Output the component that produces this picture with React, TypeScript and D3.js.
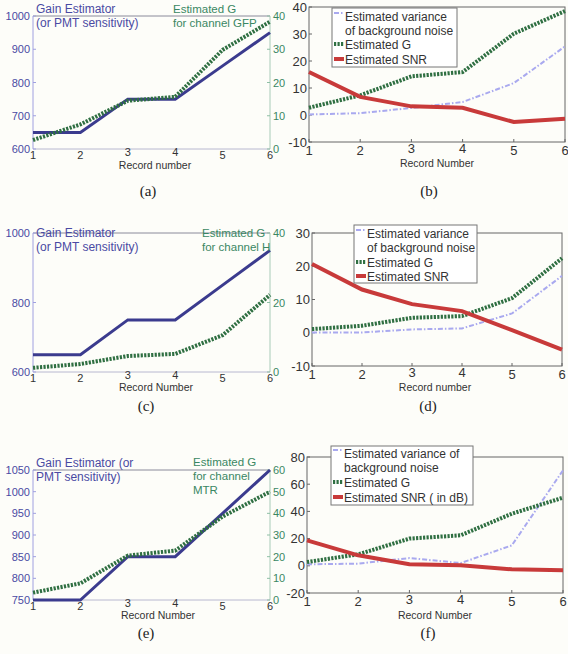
import React from "react";
import * as d3 from "d3";

// record numbers on every x axis
const records = [1, 2, 3, 4, 5, 6];

// (a) channel GFP
const gainA = [650, 650, 750, 750, 850, 950];
const estGA = [2.7, 7.4, 14.5, 15.7, 29.8, 38.3];
// (b)
const varB = [0.2, 0.7, 2.6, 4.8, 11.8, 25.4];
const estGB = [2.7, 7.3, 14.3, 15.9, 30.1, 38.5];
const snrB = [15.9, 6.7, 3.2, 2.7, -2.6, -1.4];
// (c) channel H
const gainC = [650, 650, 750, 750, 850, 950];
const estGC = [1.2, 2.3, 4.6, 5.2, 10.6, 22.2];
// (d)
const varD = [0.1, 0.1, 1, 1.3, 5.8, 17.1];
const estGD = [1.1, 2.1, 4.5, 5, 10.4, 22.4];
const snrD = [20.7, 13, 8.6, 6.5, 0.8, -5.1];
// (e) channel MTR
const gainE = [750, 750, 850, 850, 950, 1050];
const estGE = [3.4, 7.7, 20.5, 22.8, 38.5, 50];
// (f)
const varF = [1.1, 1.6, 5.7, 2, 15, 70.2];
const estGF = [2.8, 8.4, 20, 22.4, 38.3, 50.1];
const snrF = [18.7, 7.7, 1.1, 0.4, -2.6, -3.3];

// tick labels
const gainTicksA = [600, 700, 800, 900, 1000];
const gTicksA = [0, 10, 20, 30, 40];
const gainTicksC = [600, 800, 1000];
const gTicksC = [0, 20, 40];
const gainTicksE = [750, 800, 850, 900, 950, 1000, 1050];
const gTicksE = [0, 10, 20, 30, 40, 50, 60];
const ticksB = [-10, 0, 10, 20, 30, 40];
const ticksD = [-10, 0, 10, 20, 30];
const ticksF = [-20, 0, 20, 40, 60, 80];

const FONT = "'Liberation Sans', Arial, sans-serif";
const SERIF = "'Liberation Serif', 'Times New Roman', serif";
const GAIN_C = "#3b3b8e";
const GREEN = "#2f6f42";
const GREEN_TXT = "#3a8763";
const BLUE_TXT = "#4a4aa3";
const VAR_C = "#a9a9ef";
const RED = "#c83a3a";

const gStyle = { stroke: GREEN, strokeWidth: 4, strokeDasharray: "2.2 1.3", fill: "none" };
const gainStyle = { stroke: GAIN_C, strokeWidth: 3, fill: "none" };
const varStyle = { stroke: VAR_C, strokeWidth: 2, strokeDasharray: "5 2 1.5 2", fill: "none" };
const snrStyle = { stroke: RED, strokeWidth: 4, fill: "none" };

type LeftProps = {
  box: number[]; // x0, x1, yTop, yBot
  gain: number[];
  g: number[];
  gainDomain: number[];
  gainTicks: number[];
  gDomain: number[];
  gTicks: number[];
  leftText: string[];
  leftTextY: number;
  rightText: string[];
  rightTextX: number;
  rightTextY: number;
  xlabel: string;
  xlabelPos: number[];
  caption: string;
  captionPos: number[];
};

function LeftPanel(p: LeftProps) {
  const [x0, x1, yT, yB] = p.box;
  const x = d3.scaleLinear().domain([1, 6]).range([x0, x1]);
  const yL = d3.scaleLinear().domain(p.gainDomain).range([yB, yT]);
  const yR = d3.scaleLinear().domain(p.gDomain).range([yB, yT]);
  const lineL = d3.line<number>().x((d, i) => x(records[i])).y((d) => yL(d));
  const lineR = d3.line<number>().x((d, i) => x(records[i])).y((d) => yR(d));
  return (
    <g fontFamily={FONT}>
      <line x1={x0} x2={x1} y1={yT} y2={yT} stroke="#8a8a9a" strokeWidth={1} />
      <line x1={x0} x2={x1} y1={yB} y2={yB} stroke="#b8b8d0" strokeWidth={1} />
      <line x1={x0} x2={x0} y1={yT} y2={yB} stroke="#a0a0e0" strokeWidth={1} />
      <line x1={x1} x2={x1} y1={yT} y2={yB} stroke="#a8cbb8" strokeWidth={1} />
      {p.gainTicks.map((t) => (
        <g key={"l" + t}>
          <line x1={x0} x2={x0 + 3} y1={yL(t)} y2={yL(t)} stroke="#a0a0e0" />
          <text x={x0 - 3} y={yL(t) + 4} fontSize={11} textAnchor="end" fill={BLUE_TXT}>
            {t}
          </text>
        </g>
      ))}
      {p.gTicks.map((t) => (
        <g key={"r" + t}>
          <line x1={x1 - 3} x2={x1} y1={yR(t)} y2={yR(t)} stroke="#8fbfa5" />
          <text x={x1 + 3} y={yR(t) + 4} fontSize={11} fill={GREEN_TXT}>
            {t}
          </text>
        </g>
      ))}
      {records.map((r) => (
        <text
          key={"x" + r}
          x={x(r)}
          y={r === 3 || r === 4 ? yB + 7 : yB + 10}
          fontSize={11}
          textAnchor="middle"
          fill="#333"
        >
          {r}
        </text>
      ))}
      <path d={lineL(p.gain) || ""} style={gainStyle} />
      <path d={lineR(p.g) || ""} style={gStyle} />
      {p.leftText.map((s, i) => (
        <text key={"lt" + i} x={x0 + 3} y={p.leftTextY + i * 14} fontSize={12} fill={BLUE_TXT}>
          {s}
        </text>
      ))}
      {p.rightText.map((s, i) => (
        <text key={"rt" + i} x={p.rightTextX} y={p.rightTextY + i * 14} fontSize={11.5} fill={GREEN_TXT}>
          {s}
        </text>
      ))}
      <text x={p.xlabelPos[0]} y={p.xlabelPos[1]} fontSize={10.5} textAnchor="middle" fill="#333">
        {p.xlabel}
      </text>
      <text x={p.captionPos[0]} y={p.captionPos[1]} fontSize={15} textAnchor="middle" fontFamily={SERIF} fill="#222">
        {p.caption}
      </text>
    </g>
  );
}

type RightProps = {
  box: number[];
  v: number[];
  g: number[];
  snr: number[];
  domain: number[];
  ticks: number[];
  legendBox: number[]; // x0, x1, y0, y1
  legendText: string[];
  legendRows: number[];
  snrLabel: string;
  xlabel: string;
  xlabelPos: number[];
  caption: string;
  captionPos: number[];
};

function RightPanel(p: RightProps) {
  const [x0, x1, yT, yB] = p.box;
  const x = d3.scaleLinear().domain([1, 6]).range([x0, x1]);
  const y = d3.scaleLinear().domain(p.domain).range([yB, yT]);
  const line = d3.line<number>().x((d, i) => x(records[i])).y((d) => y(d));
  const [lx0, lx1, ly0, ly1] = p.legendBox;
  const sx0 = lx0 + 2;
  const sx1 = lx0 + 12;
  const tx = lx0 + 13;
  const rows = p.legendRows;
  return (
    <g fontFamily={FONT}>
      <rect x={x0} y={yT} width={x1 - x0} height={yB - yT} fill="none" stroke="#666" strokeWidth={1} />
      {p.ticks.map((t) => (
        <g key={"t" + t}>
          <line x1={x0} x2={x0 + 3} y1={y(t)} y2={y(t)} stroke="#666" />
          <text x={x0 - 2} y={y(t) + 4.5} fontSize={13} textAnchor="end" fill="#333">
            {t}
          </text>
        </g>
      ))}
      {records.map((r) => (
        <g key={"x" + r}>
          <line x1={x(r)} x2={x(r)} y1={yB} y2={yB - 3} stroke="#666" />
          <text x={x(r)} y={r === 3 || r === 4 ? yB + 11 : yB + 13} fontSize={13} textAnchor="middle" fill="#333">
            {r}
          </text>
        </g>
      ))}
      <path d={line(p.v) || ""} style={varStyle} />
      <path d={line(p.g) || ""} style={gStyle} />
      <path d={line(p.snr) || ""} style={snrStyle} />
      <rect x={lx0} y={ly0} width={lx1 - lx0} height={ly1 - ly0} fill="#fff" stroke="#777" strokeWidth={1} />
      <line x1={sx0} x2={sx1} y1={rows[0] - 3} y2={rows[0] - 3} style={varStyle} />
      <line x1={sx0} x2={sx1} y1={rows[2]} y2={rows[2]} style={gStyle} />
      <line x1={sx0} x2={sx1} y1={rows[3]} y2={rows[3]} style={snrStyle} />
      {p.legendText.map((s, i) => (
        <text key={"lg" + i} x={tx} y={rows[i] + 4.5} fontSize={12} fill="#333">
          {s}
        </text>
      ))}
      <text x={tx} y={rows[3] + 4.5} fontSize={12} fill="#333">
        {p.snrLabel}
      </text>
      <text x={p.xlabelPos[0]} y={p.xlabelPos[1]} fontSize={10.5} textAnchor="middle" fill="#333">
        {p.xlabel}
      </text>
      <text x={p.captionPos[0]} y={p.captionPos[1]} fontSize={15} textAnchor="middle" fontFamily={SERIF} fill="#222">
        {p.caption}
      </text>
    </g>
  );
}

export default function App() {
  return (
    <svg width={568} height={654} style={{ position: "absolute", left: 0, top: 0, background: "#fdfdf9" }}>
      <LeftPanel
        box={[33, 270, 16, 149]}
        gain={gainA}
        g={estGA}
        gainDomain={[600, 1000]}
        gainTicks={gainTicksA}
        gDomain={[0, 40]}
        gTicks={gTicksA}
        leftText={["Gain Estimator", "(or PMT sensitivity)"]}
        leftTextY={13}
        rightText={["Estimated G", "for channel GFP"]}
        rightTextX={173}
        rightTextY={13}
        xlabel="Record number"
        xlabelPos={[155, 169]}
        caption="(a)"
        captionPos={[148, 196]}
      />
      <RightPanel
        box={[309, 565, 7, 142]}
        v={varB}
        g={estGB}
        snr={snrB}
        domain={[-10, 40]}
        ticks={ticksB}
        legendBox={[332, 457, 8, 67]}
        legendText={["Estimated variance", "of background noise", "Estimated G"]}
        legendRows={[16, 30, 44, 59]}
        snrLabel="Estimated SNR"
        xlabel="Record Number"
        xlabelPos={[437, 167]}
        caption="(b)"
        captionPos={[429, 196]}
      />
      <LeftPanel
        box={[33, 270, 233, 372]}
        gain={gainC}
        g={estGC}
        gainDomain={[600, 1000]}
        gainTicks={gainTicksC}
        gDomain={[0, 40]}
        gTicks={gTicksC}
        leftText={["Gain Estimator", "(or PMT sensitivity)"]}
        leftTextY={237}
        rightText={["Estimated G", "for channel H"]}
        rightTextX={202}
        rightTextY={237}
        xlabel="Record Number"
        xlabelPos={[156, 391]}
        caption="(c)"
        captionPos={[146, 411]}
      />
      <RightPanel
        box={[312, 562, 233, 366]}
        v={varD}
        g={estGD}
        snr={snrD}
        domain={[-10, 30]}
        ticks={ticksD}
        legendBox={[354, 477, 225, 283]}
        legendText={["Estimated variance", "of background noise", "Estimated G"]}
        legendRows={[233, 247, 262, 276]}
        snrLabel="Estimated SNR"
        xlabel="Record number"
        xlabelPos={[435, 391]}
        caption="(d)"
        captionPos={[428, 411]}
      />
      <LeftPanel
        box={[33, 270, 470, 600]}
        gain={gainE}
        g={estGE}
        gainDomain={[750, 1050]}
        gainTicks={gainTicksE}
        gDomain={[0, 60]}
        gTicks={gTicksE}
        leftText={["Gain Estimator (or", "PMT sensitivity)"]}
        leftTextY={467}
        rightText={["Estimated G", "for channel", "MTR"]}
        rightTextX={193}
        rightTextY={466}
        xlabel="Record Number"
        xlabelPos={[158, 619]}
        caption="(e)"
        captionPos={[146, 638]}
      />
      <RightPanel
        box={[307, 563, 457, 593]}
        v={varF}
        g={estGF}
        snr={snrF}
        domain={[-20, 80]}
        ticks={ticksF}
        legendBox={[331, 473, 446, 505]}
        legendText={["Estimated variance of", "background noise", "Estimated G"]}
        legendRows={[453, 467, 482, 497]}
        snrLabel="Estimated SNR ( in dB)"
        xlabel="Record Number"
        xlabelPos={[435, 619]}
        caption="(f)"
        captionPos={[428, 638]}
      />
    </svg>
  );
}
